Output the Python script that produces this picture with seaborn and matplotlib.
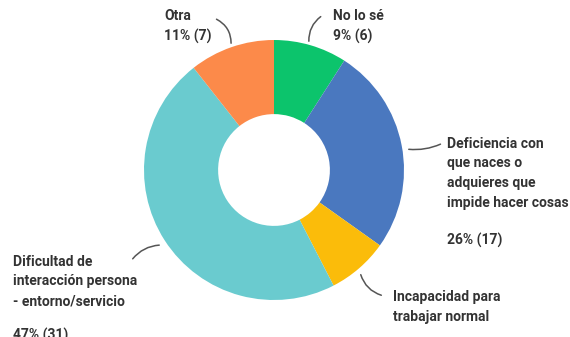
import matplotlib
matplotlib.use("Agg")
import matplotlib.pyplot as plt
import seaborn as sns

# Survey answers, clockwise from the top
categories = [
    "No lo sé",
    "Deficiencia con\nque naces o\nadquieres que\nimpide hacer cosas",
    "Incapacidad para\ntrabajar normal",
    "Dificultad de\ninteracción persona\n- entorno/servicio",
    "Otra",
]
counts = [6, 17, 5, 31, 7]
percent_labels = ["9% (6)", "26% (17)", "", "47% (31)", "11% (7)"]
slice_colors = ["#0CC46C", "#4A78BF", "#FBBC0A", "#6ACBCF", "#FC8A4A"]

sns.set_theme(style="white")
plt.rcParams["font.family"] = ["Roboto", "DejaVu Sans"]

W, H = 570, 337
fig = plt.figure(figsize=(W / 100, H / 100), dpi=100)
ax = fig.add_axes([0, 0, 1, 1])

palette = sns.color_palette(slice_colors)
cx, cy, r = 274, H - 170, 130
ax.pie(counts, colors=palette, startangle=90, counterclock=False,
       center=(cx, cy), radius=r, frame=True,
       wedgeprops=dict(width=r * 0.57, edgecolor="none"))
ax.set_xlim(0, W)
ax.set_ylim(0, H)
ax.axis("off")

txt = dict(fontsize=10, color="#333333", fontweight="semibold",
           va="top", ha="left", linespacing=1.5)

def y(px):
    return H - px

# Labels
ax.text(164, y(9), categories[4] + "\n" + percent_labels[4], **txt)
ax.text(333, y(9), categories[0] + "\n" + percent_labels[0], **txt)
ax.text(447, y(137), categories[1], **txt)
ax.text(447, y(233), percent_labels[1], **txt)
ax.text(393, y(290), categories[2], **txt)
ax.text(13, y(255), categories[3], **txt)
ax.text(13, y(328), percent_labels[3], **txt)

# Curved leader lines
line = dict(arrowstyle="-", color="#555555", lw=1.1)
def leader(p0, p1, rad):
    ax.annotate("", xy=(p1[0], y(p1[1])), xytext=(p0[0], y(p0[1])),
                arrowprops=dict(**line, connectionstyle=f"arc3,rad={rad}"))

leader((214, 18), (231, 46), -0.35)
leader((323, 15), (309, 44), 0.3)
leader((406, 149), (443, 143), 0.15)
leader((360, 272), (384, 296), 0.3)
leader((162, 245), (131, 261), 0.25)

fig.savefig("out.png", dpi=100)
